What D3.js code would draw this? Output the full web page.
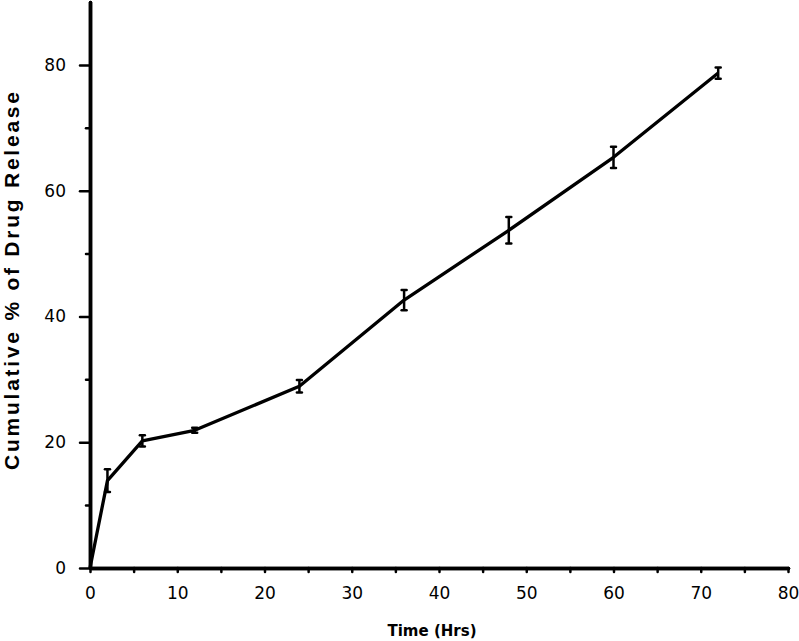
<!DOCTYPE html>
<meta charset="utf-8">
<script src="https://d3js.org/d3.v7.min.js"></script>
<style>
  body { margin: 0; background: #fff; }
</style>
<div id="chart"></div>
<script>

// data
var timeHrs = [0, 2, 6, 12, 24, 36, 48, 60, 72];
var release = [0, 13.9, 20.2, 21.9, 28.9, 42.6, 53.7, 65.3, 78.7];
var errSd   = [0, 1.8, 0.9, 0.4, 1.0, 1.6, 2.1, 1.7, 0.9];

var xTicks = [0, 10, 20, 30, 40, 50, 60, 70, 80];
var xMinor = [5, 15, 25, 35, 45, 55, 65, 75];
var yTicks = [0, 20, 40, 60, 80];
var yMinor = [10, 30, 50, 70];

var data = timeHrs.map(function(t, i) {
  return {t: t, v: release[i], sd: errSd[i]};
});

var W = 799, H = 641;
var margin = {top: 2, right: 11, bottom: 73, left: 90},
    width = W - margin.left - margin.right,
    height = H - margin.top - margin.bottom;

var svg = d3.select("#chart")
  .append("svg")
    .attr("width", W)
    .attr("height", H)
  .append("g")
    .attr("transform", "translate(" + margin.left + "," + margin.top + ")");

var x = d3.scaleLinear().domain([0, 80]).range([0, width]);
var y = d3.scaleLinear().domain([0, 90]).range([height, 0]);

// minor ticks first
svg.append("g")
  .attr("class", "axis")
  .call(d3.axisLeft(y).tickValues(yMinor).tickSize(4).tickSizeOuter(0).tickFormat(""));
svg.append("g")
  .attr("class", "axis")
  .attr("transform", "translate(0," + height + ")")
  .call(d3.axisBottom(x).tickValues(xMinor).tickSize(4).tickSizeOuter(0).tickFormat(""));

// Y axis
svg.append("g")
  .attr("class", "axis")
  .call(d3.axisLeft(y).tickValues(yTicks).tickSize(10).tickPadding(14).tickSizeOuter(0));

// X axis
svg.append("g")
  .attr("class", "axis")
  .attr("transform", "translate(0," + height + ")")
  .call(d3.axisBottom(x).tickValues(xTicks).tickSize(4).tickPadding(15).tickSizeOuter(0));

svg.selectAll(".axis path")
  .attr("stroke", "#000")
  .attr("stroke-width", 3.5)
  .attr("stroke-linecap", "round");
svg.selectAll(".axis line")
  .attr("stroke", "#000")
  .attr("stroke-width", 2.5)
  .attr("stroke-linecap", "round");
svg.selectAll(".axis text")
  .style("font-family", "DejaVu Sans")
  .style("font-size", "17px")
  .attr("fill", "#000");

// line
var line = d3.line()
  .x(function(d) { return x(d.t); })
  .y(function(d) { return y(d.v); });

svg.append("path")
  .datum(data)
  .attr("d", line)
  .attr("fill", "none")
  .attr("stroke", "#000")
  .attr("stroke-width", 3.3)
  .attr("stroke-linejoin", "round");

// error bars
var eb = svg.append("g")
  .selectAll("g")
  .data(data.filter(function(d) { return d.sd > 0; }))
  .enter().append("g");

eb.append("line")
  .attr("x1", function(d) { return x(d.t); })
  .attr("x2", function(d) { return x(d.t); })
  .attr("y1", function(d) { return y(d.v - d.sd); })
  .attr("y2", function(d) { return y(d.v + d.sd); })
  .attr("stroke", "#000")
  .attr("stroke-width", 2.5);

[-1, 1].forEach(function(s) {
  eb.append("line")
    .attr("x1", function(d) { return x(d.t) - 2.5; })
    .attr("x2", function(d) { return x(d.t) + 2.5; })
    .attr("y1", function(d) { return y(d.v + s * d.sd); })
    .attr("y2", function(d) { return y(d.v + s * d.sd); })
    .attr("stroke", "#000")
    .attr("stroke-width", 2.5)
    .attr("stroke-linecap", "round");
});

// axis titles
svg.append("text")
  .attr("x", 342)
  .attr("y", 634)
  .attr("text-anchor", "middle")
  .style("font-family", "DejaVu Sans")
  .style("font-weight", "bold")
  .style("font-size", "15px")
  .text("Time (Hrs)");

svg.append("text")
  .attr("transform", "translate(" + (19 - margin.left) + ",279) rotate(-90)")
  .attr("text-anchor", "middle")
  .attr("textLength", 378)
  .attr("lengthAdjust", "spacing")
  .style("font-family", "Liberation Sans")
  .style("font-weight", "bold")
  .style("font-size", "21px")
  .text("Cumulative % of Drug Release");

</script>
